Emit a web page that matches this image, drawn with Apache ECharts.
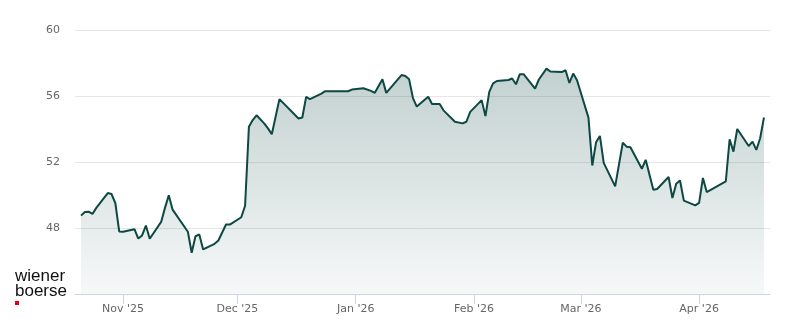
<!DOCTYPE html>
<html><head><meta charset="utf-8">
<script src="https://cdn.jsdelivr.net/npm/echarts@6/dist/echarts.min.js"></script>
<style>html,body{margin:0;padding:0;background:#fff}#c{width:800px;height:324px}</style>
</head><body><div id="c"></div>
<script>
const dates = [
'2025-10-21','2025-10-22','2025-10-23','2025-10-24','2025-10-25','2025-10-28','2025-10-29','2025-10-30','2025-10-31',
'2025-11-01','2025-11-04','2025-11-05','2025-11-06','2025-11-07','2025-11-08','2025-11-11','2025-11-12','2025-11-13','2025-11-14',
'2025-11-18','2025-11-19','2025-11-20','2025-11-21','2025-11-22','2025-11-25','2025-11-26','2025-11-28','2025-11-29',
'2025-12-02','2025-12-03','2025-12-04','2025-12-05','2025-12-06','2025-12-08','2025-12-09','2025-12-10','2025-12-12',
'2025-12-17','2025-12-18','2025-12-19','2025-12-20','2025-12-23','2025-12-24','2025-12-30','2025-12-31',
'2026-01-03','2026-01-05','2026-01-06','2026-01-08','2026-01-09','2026-01-13','2026-01-14','2026-01-15','2026-01-16','2026-01-17',
'2026-01-20','2026-01-21','2026-01-23','2026-01-24','2026-01-27','2026-01-29','2026-01-30','2026-01-31',
'2026-02-03','2026-02-04','2026-02-05','2026-02-06','2026-02-07','2026-02-10','2026-02-11','2026-02-12','2026-02-13','2026-02-14',
'2026-02-17','2026-02-18','2026-02-20','2026-02-21','2026-02-24','2026-02-25','2026-02-26','2026-02-27','2026-02-28',
'2026-03-03','2026-03-04','2026-03-05','2026-03-06','2026-03-07','2026-03-10','2026-03-12','2026-03-13','2026-03-14',
'2026-03-17','2026-03-18','2026-03-20','2026-03-21','2026-03-24','2026-03-25','2026-03-26','2026-03-27','2026-03-28','2026-03-31',
'2026-04-01','2026-04-02','2026-04-03','2026-04-08','2026-04-09','2026-04-10','2026-04-11','2026-04-14','2026-04-15','2026-04-16','2026-04-17','2026-04-18'
];
const prices = [
48.75,48.97,48.99,48.85,49.22,50.12,50.06,49.5,47.79,
47.77,47.93,47.36,47.55,48.15,47.35,48.37,49.22,49.98,49.11,
47.77,46.5,47.5,47.61,46.7,47.04,47.24,48.21,48.21,
48.65,49.35,54.14,54.54,54.83,54.34,54.04,53.68,55.81,
54.64,54.70,55.95,55.81,56.15,56.29,56.29,56.39,
56.47,56.31,56.19,57.01,56.19,57.27,57.21,57.01,55.87,55.36,
55.95,55.52,55.51,55.13,54.44,54.34,54.44,55.04,
55.75,54.78,56.25,56.76,56.91,56.97,57.06,56.71,57.32,57.32,
56.45,57.0,57.66,57.48,57.45,57.56,56.79,57.36,56.95,
54.69,51.79,53.2,53.58,51.95,50.52,53.17,52.93,52.89,
51.59,52.13,50.32,50.36,51.09,49.82,50.68,50.88,49.66,49.37,
49.52,51.03,50.18,50.82,53.38,52.63,54.0,52.97,53.23,52.73,53.44,54.7
];
const xTickDates = ['2025-11-01','2025-12-01','2026-01-01','2026-02-01','2026-03-01','2026-04-01'];
const xTickLabels = ["Nov '25","Dec '25","Jan '26","Feb '26","Mar '26","Apr '26"];
const yMin = 44, yMax = 60, yStep = 4;

const toTs = s => { const p = s.split('-').map(Number); return Date.UTC(p[0], p[1]-1, p[2]); };
const tickTs = xTickDates.map(toTs);
const lineColor = '#0d4843';

const chart = echarts.init(document.getElementById('c'), null, {renderer:'canvas'});
chart.setOption({
  animation: false,
  backgroundColor: '#ffffff',
  grid: {left: 75, right: 30, top: 30, bottom: 30, containLabel: false},
  xAxis: {
    type: 'value',
    min: Date.UTC(2025, 9, 19, 10),
    max: Date.UTC(2026, 3, 19, 14),
    axisLine: {show: true, lineStyle: {color: '#ccd6eb', width: 1}},
    axisTick: {show: true, customValues: tickTs, length: 10, lineStyle: {color: '#ccd6eb'}},
    axisLabel: {
      customValues: tickTs,
      color: '#666666', fontSize: 11, fontFamily: 'DejaVu Sans', margin: 10,
      formatter: function (v) { const i = tickTs.indexOf(v); return i >= 0 ? xTickLabels[i] : ''; }
    },
    splitLine: {show: false}
  },
  yAxis: {
    type: 'value', min: yMin, max: yMax, interval: yStep,
    axisLine: {show: false}, axisTick: {show: false},
    axisLabel: {showMinLabel: false, color: '#666666', fontSize: 11, fontFamily: 'DejaVu Sans', margin: 15},
    splitLine: {lineStyle: {color: '#e6e6e6', width: 1}}
  },
  series: [{
    type: 'line',
    data: dates.map((d, i) => [toTs(d), prices[i]]),
    showSymbol: false, symbol: 'none',
    lineStyle: {color: lineColor, width: 2},
    areaStyle: {
      color: new echarts.graphic.LinearGradient(0, 0, 0, 1, [
        {offset: 0, color: 'rgba(13,72,67,0.36)'},
        {offset: 1, color: 'rgba(13,72,67,0.05)'}
      ])
    }
  }],
  graphic: [
    {type: 'text', left: 15, top: 268, style: {text: 'wiener', fill: '#111111', font: '17px "Liberation Sans", Arial, sans-serif'}},
    {type: 'text', left: 15, top: 283, style: {text: 'boerse', fill: '#111111', font: '17px "Liberation Sans", Arial, sans-serif'}},
    {type: 'rect', left: 15, top: 301, shape: {width: 4, height: 4}, style: {fill: '#e2001a'}}
  ]
});
</script>
</body></html>
